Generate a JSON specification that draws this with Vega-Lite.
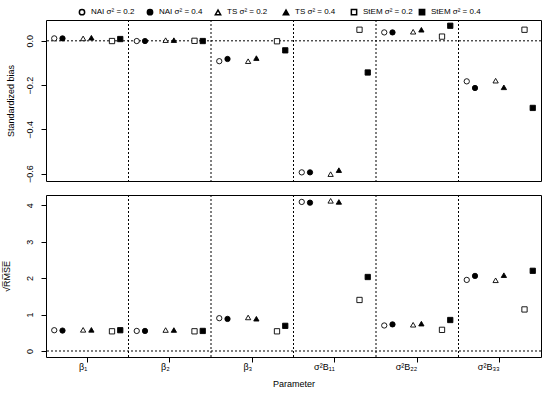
{
  "$schema": "https://vega.github.io/schema/vega-lite/v6.json",
  "padding": {"left": 1, "top": 8, "right": 8, "bottom": 5},
  "config": {
    "font": "Liberation Sans",
    "view": {"stroke": "black", "strokeWidth": 1},
    "axis": {"domain": false, "grid": false, "tickColor": "black", "tickSize": 5, "labelColor": "black", "labelFontSize": 9, "titleFontSize": 9, "titleFontWeight": "normal", "titleColor": "black"},
    "legend": {"labelFontSize": 8, "labelColor": "black"}
  },
  "spacing": 10,
  "datasets": {
    "est": [
      {"param": "β1", "series": "NAI 0.2", "bias": 0.011, "rmse": 0.57},
      {"param": "β1", "series": "NAI 0.4", "bias": 0.011, "rmse": 0.56},
      {"param": "β1", "series": "TS 0.2", "bias": 0.011, "rmse": 0.58},
      {"param": "β1", "series": "TS 0.4", "bias": 0.014, "rmse": 0.58},
      {"param": "β1", "series": "StEM 0.2", "bias": -0.001, "rmse": 0.54},
      {"param": "β1", "series": "StEM 0.4", "bias": 0.008, "rmse": 0.57},
      {"param": "β2", "series": "NAI 0.2", "bias": -0.001, "rmse": 0.55},
      {"param": "β2", "series": "NAI 0.4", "bias": -0.001, "rmse": 0.55},
      {"param": "β2", "series": "TS 0.2", "bias": 0.003, "rmse": 0.575},
      {"param": "β2", "series": "TS 0.4", "bias": 0.003, "rmse": 0.575},
      {"param": "β2", "series": "StEM 0.2", "bias": 0.0, "rmse": 0.54},
      {"param": "β2", "series": "StEM 0.4", "bias": -0.001, "rmse": 0.55},
      {"param": "β3", "series": "NAI 0.2", "bias": -0.092, "rmse": 0.9},
      {"param": "β3", "series": "NAI 0.4", "bias": -0.082, "rmse": 0.88},
      {"param": "β3", "series": "TS 0.2", "bias": -0.092, "rmse": 0.92},
      {"param": "β3", "series": "TS 0.4", "bias": -0.078, "rmse": 0.885},
      {"param": "β3", "series": "StEM 0.2", "bias": -0.002, "rmse": 0.54},
      {"param": "β3", "series": "StEM 0.4", "bias": -0.043, "rmse": 0.69},
      {"param": "σB11", "series": "NAI 0.2", "bias": -0.594, "rmse": 4.09},
      {"param": "σB11", "series": "NAI 0.4", "bias": -0.594, "rmse": 4.07},
      {"param": "σB11", "series": "TS 0.2", "bias": -0.602, "rmse": 4.12},
      {"param": "σB11", "series": "TS 0.4", "bias": -0.584, "rmse": 4.09},
      {"param": "σB11", "series": "StEM 0.2", "bias": 0.05, "rmse": 1.4},
      {"param": "σB11", "series": "StEM 0.4", "bias": -0.143, "rmse": 2.03},
      {"param": "σB22", "series": "NAI 0.2", "bias": 0.038, "rmse": 0.7},
      {"param": "σB22", "series": "NAI 0.4", "bias": 0.038, "rmse": 0.73},
      {"param": "σB22", "series": "TS 0.2", "bias": 0.041, "rmse": 0.72},
      {"param": "σB22", "series": "TS 0.4", "bias": 0.05, "rmse": 0.75},
      {"param": "σB22", "series": "StEM 0.2", "bias": 0.019, "rmse": 0.58},
      {"param": "σB22", "series": "StEM 0.4", "bias": 0.068, "rmse": 0.85},
      {"param": "σB33", "series": "NAI 0.2", "bias": -0.183, "rmse": 1.95},
      {"param": "σB33", "series": "NAI 0.4", "bias": -0.213, "rmse": 2.06},
      {"param": "σB33", "series": "TS 0.2", "bias": -0.18, "rmse": 1.94},
      {"param": "σB33", "series": "TS 0.4", "bias": -0.21, "rmse": 2.08},
      {"param": "σB33", "series": "StEM 0.2", "bias": 0.05, "rmse": 1.14},
      {"param": "σB33", "series": "StEM 0.4", "bias": -0.303, "rmse": 2.2}
    ],
    "bounds": [
      {"param": "β1"}, {"param": "β2"}, {"param": "β3"}, {"param": "σB11"}, {"param": "σB22"}
    ]
  },
  "vconcat": [
    {
      "width": 495,
      "height": 161,
      "layer": [
        {
          "data": {"name": "bounds"},
          "mark": {"type": "rule", "color": "black", "strokeDash": [2, 2], "strokeWidth": 1},
          "encoding": {
            "x": {"field": "param", "type": "nominal", "bandPosition": 1, "sort": null,
                  "scale": {"domain": ["β1", "β2", "β3", "σB11", "σB22", "σB33"], "paddingInner": 0, "paddingOuter": 0}, "axis": null}
          }
        },
        {
          "data": {"values": [{"v": 0}]},
          "mark": {"type": "rule", "color": "black", "strokeDash": [2, 2], "strokeWidth": 1},
          "encoding": {"y": {"field": "v", "type": "quantitative"}}
        },
        {
          "data": {"name": "est"},
          "mark": {"type": "point", "size": 28, "strokeWidth": 0.9, "stroke": "black", "opacity": 1},
          "encoding": {
            "x": {"field": "param", "type": "nominal", "sort": null,
                  "scale": {"domain": ["β1", "β2", "β3", "σB11", "σB22", "σB33"], "paddingInner": 0, "paddingOuter": 0}, "axis": null},
            "xOffset": {"field": "series", "type": "nominal",
                        "scale": {"type": "point", "padding": 0, "domain": ["a0", "a1", "NAI 0.2", "a3", "NAI 0.4", "a5", "a6", "a7", "a8", "TS 0.2", "a10", "TS 0.4", "a12", "a13", "a14", "a15", "StEM 0.2", "a17", "StEM 0.4", "a19", "a20"]}},
            "y": {"field": "bias", "type": "quantitative",
                  "scale": {"domain": [-0.633, 0.094], "nice": false, "zero": false},
                  "axis": {"title": "Standardized bias", "values": [-0.6, -0.5, -0.4, -0.3, -0.2, -0.1, 0], "format": ".1f", "labelAngle": -90, "labelAlign": "center", "labelBaseline": "bottom", "labelPadding": 7, "titlePadding": 10}},
            "shape": {"field": "series", "type": "nominal",
                      "scale": {"domain": ["NAI 0.2", "NAI 0.4", "TS 0.2", "TS 0.4", "StEM 0.2", "StEM 0.4"], "range": ["circle", "circle", "triangle-up", "triangle-up", "square", "square"]},
                      "legend": {"title": null, "orient": "none", "legendX": 32, "legendY": -12, "direction": "horizontal", "columns": 6, "gridAlign": "all", "columnPadding": 3, "symbolSize": 28, "labelOffset": 5,
                                 "labelExpr": "replace(datum.label, / (0\\.[24])/, ' σ² = $1')",
                                 "encode": {"symbols": {"update": {"stroke": {"value": "black"}, "strokeWidth": {"value": 0.9}}}}}},
            "fill": {"field": "series", "type": "nominal",
                     "scale": {"domain": ["NAI 0.2", "NAI 0.4", "TS 0.2", "TS 0.4", "StEM 0.2", "StEM 0.4"], "range": ["white", "black", "white", "black", "white", "black"]},
                     "legend": {"title": null, "orient": "none", "legendX": 32, "legendY": -12, "direction": "horizontal", "columns": 6, "gridAlign": "all", "columnPadding": 3, "symbolSize": 28, "labelOffset": 5,
                                "labelExpr": "replace(datum.label, / (0\\.[24])/, ' σ² = $1')",
                                "encode": {"symbols": {"update": {"stroke": {"value": "black"}, "strokeWidth": {"value": 0.9}}}}}}
          }
        }
      ]
    },
    {
      "width": 495,
      "height": 162,
      "layer": [
        {
          "data": {"name": "bounds"},
          "mark": {"type": "rule", "color": "black", "strokeDash": [2, 2], "strokeWidth": 1},
          "encoding": {
            "x": {"field": "param", "type": "nominal", "bandPosition": 1, "sort": null,
                  "scale": {"domain": ["β1", "β2", "β3", "σB11", "σB22", "σB33"], "paddingInner": 0, "paddingOuter": 0}}
          }
        },
        {
          "data": {"values": [{"v": 0}]},
          "mark": {"type": "rule", "color": "black", "strokeDash": [2, 2], "strokeWidth": 1},
          "encoding": {"y": {"field": "v", "type": "quantitative"}}
        },
        {
          "data": {"name": "est"},
          "mark": {"type": "point", "size": 28, "strokeWidth": 0.9, "stroke": "black", "opacity": 1},
          "encoding": {
            "x": {"field": "param", "type": "nominal", "sort": null,
                  "scale": {"domain": ["β1", "β2", "β3", "σB11", "σB22", "σB33"], "paddingInner": 0, "paddingOuter": 0},
                  "axis": {"title": "Parameter", "labelAngle": 0, "labelPadding": 4, "titlePadding": 8,
                           "labelExpr": "{'β1': 'β₁', 'β2': 'β₂', 'β3': 'β₃', 'σB11': 'σ²B₁₁', 'σB22': 'σ²B₂₂', 'σB33': 'σ²B₃₃'}[datum.value]"}},
            "xOffset": {"field": "series", "type": "nominal",
                        "scale": {"type": "point", "padding": 0, "domain": ["a0", "a1", "NAI 0.2", "a3", "NAI 0.4", "a5", "a6", "a7", "a8", "TS 0.2", "a10", "TS 0.4", "a12", "a13", "a14", "a15", "StEM 0.2", "a17", "StEM 0.4", "a19", "a20"]}},
            "y": {"field": "rmse", "type": "quantitative",
                  "scale": {"domain": [-0.165, 4.28], "nice": false, "zero": false},
                  "axis": {"title": "√R̅M̅S̅E̅", "values": [0, 1, 2, 3, 4], "format": "d", "labelAngle": -90, "labelAlign": "center", "labelBaseline": "bottom", "labelPadding": 7, "titlePadding": 14}},
            "shape": {"field": "series", "type": "nominal",
                      "scale": {"domain": ["NAI 0.2", "NAI 0.4", "TS 0.2", "TS 0.4", "StEM 0.2", "StEM 0.4"], "range": ["circle", "circle", "triangle-up", "triangle-up", "square", "square"]}},
            "fill": {"field": "series", "type": "nominal",
                     "scale": {"domain": ["NAI 0.2", "NAI 0.4", "TS 0.2", "TS 0.4", "StEM 0.2", "StEM 0.4"], "range": ["white", "black", "white", "black", "white", "black"]}}
          }
        }
      ]
    }
  ]
}
